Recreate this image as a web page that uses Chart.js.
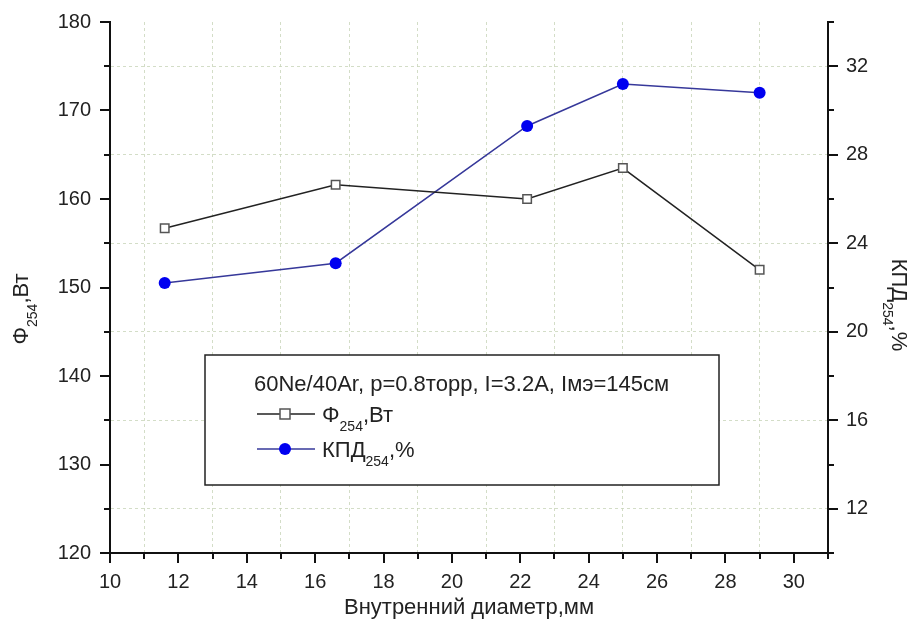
<!DOCTYPE html>
<html>
<head>
<meta charset="utf-8">
<script src="https://cdn.jsdelivr.net/npm/chart.js@4/dist/chart.umd.min.js"></script>
<style>
  html, body { margin: 0; padding: 0; background: #fff; }
  #wrap { width: 915px; height: 621px; }
</style>
</head>
<body>
<div id="wrap"><canvas id="chart" width="915" height="621"></canvas></div>
<script>
// data
const diameters = [11.6, 16.6, 22.2, 25.0, 29.0];
const fluxW = [156.7, 161.6, 160.0, 163.5, 152.0];
const effPct = [22.2, 23.1, 29.3, 31.2, 30.8];

const legendTitle = '60Ne/40Ar, p=0.8торр, I=3.2A, Iмэ=145см';
const fluxLabel = [['Φ', 0], ['254', 1], [',Вт', 0]];
const effLabel = [['КПД', 0], ['254', 1], [',%', 0]];
const xTitle = 'Внутренний диаметр,мм';

const FONT = '"Liberation Sans", Arial, sans-serif';
const gridColor = 'rgba(200, 212, 185, 0.8)';

// draws text with subscript parts, starting at x along baseline
function subText(ctx, parts, x, y, size) {
  let cx = x;
  parts.forEach(([t, sub]) => {
    ctx.font = `${sub ? Math.round(size * 0.64) : size}px ${FONT}`;
    ctx.fillText(t, cx, sub ? y + size * 0.42 : y);
    cx += ctx.measureText(t).width;
  });
}
function subWidth(ctx, parts, size) {
  let w = 0;
  parts.forEach(([t, sub]) => {
    ctx.font = `${sub ? Math.round(size * 0.64) : size}px ${FONT}`;
    w += ctx.measureText(t).width;
  });
  return w;
}

// tick marks: long at labelled values, short between
const tickMarks = {
  id: 'tickMarks',
  afterDraw(chart) {
    const { ctx, chartArea, scales } = chart;
    ctx.save();
    ctx.strokeStyle = '#111';
    ctx.lineWidth = 2;
    scales.x.ticks.forEach((t) => {
      const px = Math.round(scales.x.getPixelForValue(t.value));
      const len = t.value % 2 === 0 ? 10 : 6;
      ctx.beginPath();
      ctx.moveTo(px, chartArea.bottom);
      ctx.lineTo(px, chartArea.bottom + len);
      ctx.stroke();
    });
    scales.y.ticks.forEach((t) => {
      const py = Math.round(scales.y.getPixelForValue(t.value));
      const len = t.value % 10 === 0 ? 10 : 6;
      ctx.beginPath();
      ctx.moveTo(chartArea.left, py);
      ctx.lineTo(chartArea.left - len, py);
      ctx.stroke();
    });
    scales.y1.ticks.forEach((t) => {
      const py = Math.round(scales.y1.getPixelForValue(t.value));
      const len = t.value % 4 === 0 ? 10 : 6;
      ctx.beginPath();
      ctx.moveTo(chartArea.right, py);
      ctx.lineTo(chartArea.right + len, py);
      ctx.stroke();
    });
    ctx.restore();
  },
};

// axis titles with subscripts
const axisTitles = {
  id: 'axisTitles',
  afterDraw(chart) {
    const { ctx, chartArea } = chart;
    const size = 22;
    ctx.save();
    ctx.fillStyle = '#222';
    ctx.textBaseline = 'alphabetic';

    ctx.font = `${size}px ${FONT}`;
    ctx.textAlign = 'center';
    ctx.fillText(xTitle, (chartArea.left + chartArea.right) / 2, 614);
    ctx.textAlign = 'left';

    ctx.save();
    ctx.translate(28, 309);
    ctx.rotate(-Math.PI / 2);
    subText(ctx, fluxLabel, -subWidth(ctx, fluxLabel, size) / 2, 0, size);
    ctx.restore();

    ctx.save();
    ctx.translate(892, 305);
    ctx.rotate(Math.PI / 2);
    subText(ctx, effLabel, -subWidth(ctx, effLabel, size) / 2, 0, size);
    ctx.restore();

    ctx.restore();
  },
};

// boxed legend like the original
const boxLegend = {
  id: 'boxLegend',
  afterDraw(chart) {
    const { ctx } = chart;
    const size = 22;
    const ds = chart.data.datasets;
    ctx.save();
    ctx.fillStyle = '#fff';
    ctx.fillRect(205, 355, 514, 130);
    ctx.strokeStyle = '#222';
    ctx.lineWidth = 1.5;
    ctx.strokeRect(205, 355, 514, 130);

    ctx.fillStyle = '#222';
    ctx.font = `${size}px ${FONT}`;
    ctx.fillText(legendTitle, 254, 391);

    const rows = [[ds[0], fluxLabel, 414], [ds[1], effLabel, 449]];
    rows.forEach(([d, label, y]) => {
      ctx.strokeStyle = d.borderColor;
      ctx.lineWidth = 1.5;
      ctx.beginPath();
      ctx.moveTo(257, y);
      ctx.lineTo(315, y);
      ctx.stroke();
      ctx.fillStyle = d.pointBackgroundColor;
      ctx.strokeStyle = d.pointBorderColor;
      ctx.lineWidth = d.pointBorderWidth;
      if (d.pointStyle === 'rect') {
        ctx.fillRect(280, y - 5, 10, 10);
        ctx.strokeRect(280, y - 5, 10, 10);
      } else {
        ctx.beginPath();
        ctx.arc(285, y, d.pointRadius, 0, Math.PI * 2);
        ctx.fill();
      }
      ctx.fillStyle = '#222';
      subText(ctx, label, 322, y + 8, size);
    });
    ctx.restore();
  },
};

const tickFont = { family: FONT, size: 20 };
const noPadV = (s, w) => { s.width = w; s.paddingTop = 0; s.paddingBottom = 0; };

new Chart(document.getElementById('chart'), {
  type: 'line',
  data: {
    datasets: [
      {
        label: 'Φ254,Вт',
        data: diameters.map((d, i) => ({ x: d, y: fluxW[i] })),
        yAxisID: 'y',
        borderColor: '#222',
        borderWidth: 1.5,
        pointStyle: 'rect',
        pointRadius: 6,
        pointBackgroundColor: '#fff',
        pointBorderColor: '#555',
        pointBorderWidth: 1.5,
        tension: 0,
      },
      {
        label: 'КПД254,%',
        data: diameters.map((d, i) => ({ x: d, y: effPct[i] })),
        yAxisID: 'y1',
        borderColor: '#36389a',
        borderWidth: 1.5,
        pointStyle: 'circle',
        pointRadius: 6,
        pointBackgroundColor: '#0000f0',
        pointBorderColor: '#0000f0',
        pointBorderWidth: 0,
        tension: 0,
      },
    ],
  },
  options: {
    responsive: false,
    animation: false,
    layout: { padding: { top: 22, left: 0, right: 0, bottom: 0 } },
    plugins: { legend: { display: false }, tooltip: { enabled: false } },
    scales: {
      x: {
        type: 'linear',
        min: 10,
        max: 31,
        afterFit: (s) => { s.height = 68; s.paddingLeft = 0; s.paddingRight = 0; },
        ticks: {
          stepSize: 1,
          autoSkip: false,
          maxRotation: 0,
          padding: 17,
          font: tickFont,
          color: '#222',
          callback: (v) => (v % 2 === 0 ? v : ''),
        },
        grid: {
          drawTicks: false,
          color: (c) => (c.tick && c.tick.value % 2 !== 0 && c.tick.value !== 31 ? gridColor : 'transparent'),
        },
        border: { display: true, color: '#111', width: 2, dash: [3, 3] },
      },
      y: {
        position: 'left',
        min: 120,
        max: 180,
        afterFit: (s) => noPadV(s, 110),
        ticks: {
          stepSize: 5,
          autoSkip: false,
          padding: 19,
          font: tickFont,
          color: '#222',
          callback: (v) => (v % 10 === 0 ? v : ''),
        },
        grid: {
          drawTicks: false,
          color: (c) => (c.tick && c.tick.value % 10 !== 0 ? gridColor : 'transparent'),
        },
        border: { display: true, color: '#111', width: 2, dash: [3, 3] },
      },
      y1: {
        position: 'right',
        min: 10,
        max: 34,
        afterFit: (s) => noPadV(s, 87),
        ticks: {
          stepSize: 2,
          autoSkip: false,
          padding: 18,
          font: tickFont,
          color: '#222',
          callback: (v) => (v % 4 === 0 ? v : ''),
        },
        grid: { drawTicks: false, drawOnChartArea: false },
        border: { display: true, color: '#111', width: 2 },
      },
    },
  },
  plugins: [tickMarks, axisTitles, boxLegend],
});
</script>
</body>
</html>
